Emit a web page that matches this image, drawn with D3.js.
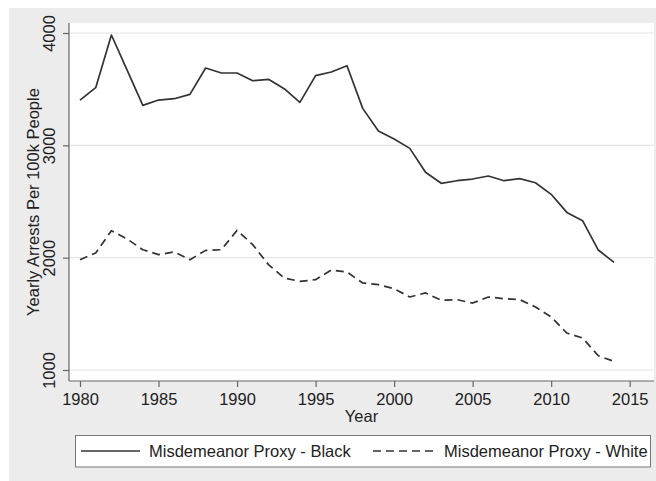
<!DOCTYPE html>
<html>
<head>
<meta charset="utf-8">
<script src="https://cdn.jsdelivr.net/npm/d3@7"></script>
<style>
  html, body { margin: 0; padding: 0; background: #ffffff; }
  svg { display: block; }
  text { font-family: "Liberation Sans", Arial, Helvetica, sans-serif; fill: #222; }
</style>
</head>
<body>
<svg id="chart" width="656" height="481"></svg>
<script>
const years = d3.range(1980, 2015);
const blackValues = [3403, 3513, 3982, 3670, 3356, 3403, 3415, 3454, 3688, 3644,
                     3644, 3575, 3588, 3504, 3383, 3620, 3653, 3709, 3329, 3127,
                     3056, 2973, 2760, 2662, 2685, 2700, 2727, 2685, 2703, 2667,
                     2564, 2403, 2329, 2068, 1958];
const whiteValues = [1982, 2042, 2240, 2166, 2071, 2027, 2051, 1982, 2065, 2071,
                     2243, 2116, 1938, 1819, 1789, 1804, 1890, 1872, 1775, 1760,
                     1724, 1650, 1686, 1620, 1626, 1596, 1650, 1635, 1626, 1561,
                     1472, 1329, 1285, 1127, 1077];
const xTicks = [1980, 1985, 1990, 1995, 2000, 2005, 2010, 2015];
const yTicks = [1000, 2000, 3000, 4000];
const seriesNames = ["Misdemeanor Proxy - Black", "Misdemeanor Proxy - White"];
const xTitle = "Year";
const yTitle = "Yearly Arrests Per 100k People";

const svg = d3.select("#chart");
const W = 656, H = 481;
const plot = { left: 69, right: 654, top: 23, bottom: 381 };
const FS = "16.5px";

// outer background
svg.append("rect").attr("x", 9).attr("y", 8).attr("width", W - 9).attr("height", H - 8)
  .attr("fill", "#ececec");
// plot region
svg.append("rect").attr("x", plot.left).attr("y", plot.top)
  .attr("width", plot.right - plot.left).attr("height", plot.bottom - plot.top)
  .attr("fill", "#ffffff");

const x = d3.scaleLinear().domain([1980, 2015]).range([80, 629.7]);
const y = d3.scaleLinear().domain([1000, 4000]).range([370, 33]);

// gridlines
svg.append("g").selectAll("line").data(yTicks).join("line")
  .attr("x1", plot.left).attr("x2", plot.right)
  .attr("y1", d => y(d)).attr("y2", d => y(d))
  .attr("stroke", "#e4e4e4").attr("stroke-width", 1.2);

// axes lines
svg.append("line").attr("x1", plot.left).attr("x2", plot.left)
  .attr("y1", plot.top).attr("y2", plot.bottom)
  .attr("stroke", "#666").attr("stroke-width", 1.2);
svg.append("line").attr("x1", plot.left).attr("x2", plot.right)
  .attr("y1", plot.bottom).attr("y2", plot.bottom)
  .attr("stroke", "#666").attr("stroke-width", 1.2);

// y axis
const yAxis = d3.axisLeft(y).tickValues(yTicks).tickSize(6).tickSizeOuter(0).tickFormat(d3.format("d"));
const gy = svg.append("g").attr("transform", `translate(${plot.left},0)`).call(yAxis);
gy.select(".domain").remove();
gy.selectAll(".tick line").attr("stroke", "#666").attr("stroke-width", 1.2);
gy.selectAll(".tick text")
  .attr("x", 0).attr("dy", 0)
  .attr("transform", "translate(-14,0) rotate(-90)")
  .attr("text-anchor", "middle")
  .style("font-size", FS)
  .style("font-family", "'Liberation Sans', Arial, sans-serif")
  .attr("fill", "#222");

// x axis
const xAxis = d3.axisBottom(x).tickValues(xTicks).tickSize(6).tickSizeOuter(0).tickFormat(d3.format("d"));
const gx = svg.append("g").attr("transform", `translate(0,${plot.bottom})`).call(xAxis);
gx.select(".domain").remove();
gx.selectAll(".tick line").attr("stroke", "#666").attr("stroke-width", 1.2);
gx.selectAll(".tick text")
  .attr("y", 24).attr("dy", 0)
  .style("font-size", FS)
  .style("font-family", "'Liberation Sans', Arial, sans-serif")
  .attr("fill", "#222");

// titles
svg.append("text").attr("x", (plot.left + plot.right) / 2).attr("y", 422)
  .attr("text-anchor", "middle").style("font-size", FS).text(xTitle);
svg.append("text")
  .attr("transform", `translate(39,${(plot.top + plot.bottom) / 2}) rotate(-90)`)
  .attr("text-anchor", "middle").style("font-size", FS).text(yTitle);

// lines
const line = d3.line().x((d, i) => x(years[i])).y(d => y(d));
svg.append("path").datum(blackValues).attr("d", line)
  .attr("fill", "none").attr("stroke", "#333").attr("stroke-width", 1.7)
  .attr("stroke-linejoin", "round");
svg.append("path").datum(whiteValues).attr("d", line)
  .attr("fill", "none").attr("stroke", "#333").attr("stroke-width", 1.7)
  .attr("stroke-dasharray", "8,5").attr("stroke-linejoin", "round");

// legend
const lg = svg.append("g");
lg.append("rect").attr("x", 75.5).attr("y", 435.5).attr("width", 575).attr("height", 31.5)
  .attr("fill", "#ffffff").attr("stroke", "#777").attr("stroke-width", 1);
const keys = [
  { x1: 81, x2: 140, tx: 149, dash: null, name: seriesNames[0] },
  { x1: 373, x2: 438, tx: 444, dash: "8,5", name: seriesNames[1] }
];
keys.forEach(k => {
  const l = lg.append("line").attr("x1", k.x1).attr("x2", k.x2).attr("y1", 451).attr("y2", 451)
    .attr("stroke", "#333").attr("stroke-width", 1.7);
  if (k.dash) l.attr("stroke-dasharray", k.dash);
  lg.append("text").attr("x", k.tx).attr("y", 457).style("font-size", FS).text(k.name);
});
</script>
</body>
</html>
